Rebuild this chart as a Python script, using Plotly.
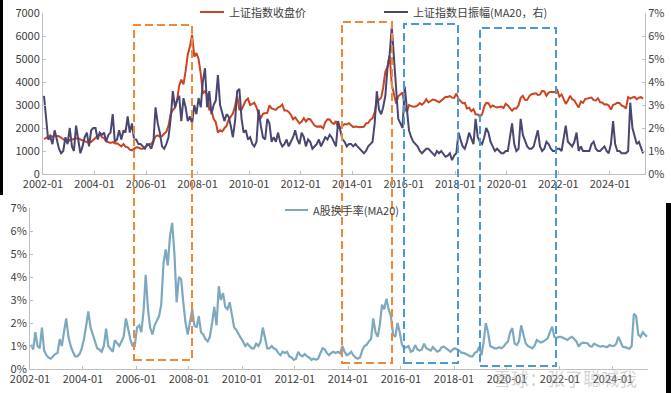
import pandas as pd
import plotly.graph_objects as go

W, H = 671, 393

# ---------------- data (monthly, 2002-01 .. 2025-04) ----------------
months = pd.date_range("2002-01-01", periods=280, freq="MS") + pd.Timedelta(days=14)

sh_close = [
    # 2002
    1520, 1560, 1620, 1680, 1600, 1700, 1650, 1640, 1580, 1510, 1450, 1380,
    # 2003
    1480, 1500, 1510, 1520, 1560, 1500, 1470, 1430, 1380, 1350, 1400, 1490,
    # 2004
    1590, 1680, 1740, 1600, 1560, 1420, 1390, 1350, 1390, 1330, 1340, 1280,
    # 2005
    1200, 1300, 1190, 1160, 1060, 1030, 1080, 1160, 1150, 1100, 1100, 1160,
    # 2006
    1260, 1300, 1300, 1440, 1640, 1680, 1620, 1650, 1750, 1840, 2100, 2600,
    # 2007
    2780, 2880, 3180, 3840, 4100, 3900, 4470, 5200, 5550, 6050, 5100, 5260,
    # 2008
    5000, 4350, 3500, 3600, 3450, 2800, 2780, 2400, 2250, 1800, 1900, 1850,
    # 2009
    1990, 2100, 2350, 2480, 2630, 2950, 3400, 2800, 2800, 3000, 3200, 3280,
    # 2010
    3000, 3050, 3100, 2900, 2600, 2420, 2620, 2640, 2660, 2980, 2850, 2820,
    # 2011
    2790, 2900, 2930, 3020, 2760, 2760, 2700, 2580, 2380, 2460, 2350, 2200,
    # 2012
    2280, 2430, 2280, 2400, 2380, 2230, 2110, 2060, 2080, 2070, 1990, 2250,
    # 2013
    2380, 2370, 2240, 2180, 2300, 2000, 2000, 2100, 2170, 2150, 2210, 2120,
    # 2014
    2040, 2060, 2040, 2030, 2040, 2050, 2200, 2220, 2360, 2420, 2680, 3200,
    # 2015
    3220, 3320, 3750, 4450, 4650, 5150, 3900, 3500, 3060, 3380, 3450, 3540,
    # 2016
    2850, 2700, 3000, 2940, 2920, 2930, 2980, 3080, 3010, 3100, 3250, 3110,
    # 2017
    3160, 3240, 3220, 3150, 3120, 3190, 3270, 3360, 3350, 3390, 3320, 3310,
    # 2018
    3500, 3260, 3170, 3080, 3090, 2850, 2880, 2730, 2820, 2600, 2590, 2500,
    # 2019
    2590, 2940, 3090, 3080, 2900, 2980, 2930, 2890, 2910, 2930, 2870, 3050,
    # 2020
    2980, 2880, 2750, 2860, 2850, 2990, 3310, 3400, 3220, 3230, 3390, 3470,
    # 2021
    3480, 3510, 3440, 3450, 3610, 3590, 3400, 3540, 3570, 3550, 3560, 3640,
    # 2022
    3360, 3460, 3250, 3050, 3190, 3400, 3250, 3200, 3030, 2900, 3150, 3090,
    # 2023
    3260, 3280, 3270, 3320, 3210, 3200, 3290, 3120, 3110, 3020, 3030, 2980,
    # 2024
    2800, 3010, 3040, 3100, 3090, 2970, 2940, 2850, 3340, 3280, 3330, 3350,
    # 2025
    3250, 3320, 3340, 3280,
]

amplitude_ma20 = [
    3.4, 2.4, 1.5, 1.6, 1.3, 1.9, 1.5, 1.1, 0.9, 1.0, 1.6, 1.3,
    2.0, 1.2, 1.0, 2.1, 1.5, 0.9, 1.2, 1.6, 1.8, 1.2, 1.9, 2.0,
    2.0, 1.5, 1.8, 1.7, 1.8, 1.4, 1.7, 1.8, 2.6, 1.4, 1.5, 1.9,
    1.5, 1.9, 1.8, 2.5, 1.8, 2.2, 1.5, 1.5, 1.3, 1.3, 1.2, 1.1,
    1.3, 1.25, 1.1, 1.4, 2.9, 2.2, 1.8, 1.2, 1.1, 1.3, 1.6, 2.4,
    3.6, 2.9, 3.2, 3.4, 2.3, 3.3, 2.9, 2.3, 2.5, 2.2, 3.0, 2.6,
    3.3, 2.9, 4.0, 4.6, 2.9, 3.6, 2.6, 3.0, 3.2, 4.3, 3.0, 2.6,
    2.3, 2.6, 2.5, 2.1, 1.6, 2.3, 3.6, 3.7, 2.4, 1.8, 1.9, 1.5,
    1.6, 1.3, 1.2, 1.4, 2.8, 2.1, 1.6, 1.5, 2.4, 2.2, 1.4, 1.6,
    1.4, 1.8, 1.4, 1.2, 1.3, 1.5, 1.2, 1.4, 1.6, 1.9, 1.5, 1.3,
    1.8, 1.6, 1.2, 1.5, 1.4, 1.1, 1.2, 1.3, 1.5, 1.2, 1.4, 1.6,
    1.5, 1.7, 1.6, 1.4, 1.2, 2.3, 1.9, 1.5, 1.4, 1.2, 1.3, 1.3,
    1.2, 1.3, 1.2, 1.1, 1.0, 0.9, 1.0, 1.2, 1.3, 1.4, 2.2, 3.6,
    2.8, 2.6, 2.9, 3.4, 4.6, 5.2, 6.4, 4.9, 3.6, 2.4, 2.2, 2.0,
    3.8, 2.7, 1.9, 1.6, 1.4, 1.3, 1.2, 1.0, 0.9, 1.0, 1.1, 1.1,
    1.0, 0.9, 0.8, 1.0, 0.9, 1.0, 0.9, 0.75, 0.8, 0.9, 0.6, 0.8,
    0.9, 1.8, 1.5, 1.2, 1.1, 1.4, 1.8, 1.5, 1.3, 2.4, 1.6, 1.4,
    1.3, 1.6, 2.0, 1.8, 1.4, 1.2, 1.0, 1.1, 1.0, 0.9, 0.9, 1.0,
    1.0, 1.6, 2.2, 1.3, 1.0, 1.1, 2.4, 1.7, 1.4, 1.2, 1.1, 1.1,
    1.2, 1.6, 1.9, 1.2, 1.0, 1.1, 1.4, 1.3, 1.1, 1.0, 1.0, 1.1,
    1.1, 1.0, 1.6, 2.1, 1.4, 1.3, 1.2, 1.4, 1.8, 1.0, 1.2, 1.0,
    1.0, 1.0, 1.0, 1.3, 1.4, 1.1, 1.0, 1.0, 1.1, 1.2, 1.0, 0.9,
    1.3, 2.3, 1.3, 1.0, 1.0, 0.9, 0.9, 0.9, 1.0, 3.1, 2.0, 1.6,
    1.3, 1.4, 1.2, 0.9,
]

turnover_ma20 = [
    1.05, 0.85, 1.6, 1.0, 0.9, 1.8, 0.8, 0.6, 0.5, 0.45, 0.55, 0.65,
    0.7, 1.3, 1.0, 1.6, 2.2, 1.4, 1.0, 0.75, 0.55, 0.55, 0.65, 0.9,
    1.3, 1.9, 2.5, 1.8, 1.5, 1.1, 0.9, 0.85, 0.75, 1.0, 1.75, 1.0,
    0.85, 0.75, 1.25, 1.1, 1.0, 1.2, 1.4, 2.2, 1.7, 1.3, 1.0, 1.0,
    1.8, 1.9, 1.6, 2.5, 4.1, 2.6, 1.8, 1.5, 1.9, 2.1, 2.3, 2.8,
    4.6, 5.2, 4.5, 5.8, 6.35, 5.0, 2.9, 4.0, 3.9, 2.9, 2.0, 1.5,
    2.1, 2.6, 1.9, 1.8, 2.3, 1.6, 1.5, 1.3, 1.2, 1.4, 2.0, 2.7,
    1.9, 3.6, 3.0, 3.3, 2.7, 2.6, 2.9, 2.3, 1.8, 1.7, 1.5, 1.35,
    1.2, 1.0, 1.1, 1.0, 0.9, 0.9, 1.1, 1.0, 1.2, 1.8, 1.3, 0.9,
    0.9, 1.0, 0.9, 0.85, 0.7, 0.6, 0.75, 0.7, 0.75, 0.55, 0.5, 0.4,
    0.45, 0.75, 0.6, 0.55, 0.65, 0.55, 0.5, 0.4, 0.45, 0.4, 0.45, 0.7,
    0.9, 0.85, 0.7, 0.6, 0.7, 0.75, 0.7, 0.75, 0.68, 1.0, 0.75, 0.6,
    0.65, 0.75, 0.6, 0.5, 0.45, 0.5, 0.8, 1.0, 1.05, 1.2, 1.3, 2.2,
    1.6, 1.4, 1.9, 2.8, 2.6, 3.05, 2.6, 2.3, 1.5, 1.4, 2.0, 1.6,
    1.05, 0.9, 0.95, 1.0, 0.75, 0.8, 1.04, 0.85, 0.8, 0.85, 1.1, 0.9,
    0.85, 0.8, 0.95, 0.85, 0.75, 0.8, 0.95, 0.97, 0.9, 0.8, 0.75, 0.85,
    0.9, 0.85, 0.8, 0.7, 0.7, 0.65, 0.6, 0.55, 0.55, 0.7, 0.75, 0.97,
    0.6, 1.2, 2.0, 1.6, 1.0, 0.95, 0.9, 0.9, 0.95, 0.9, 0.97, 1.1,
    1.2, 1.6, 1.78, 1.1, 1.04, 1.2, 1.9, 1.5, 1.12, 1.0, 0.95, 0.9,
    1.0, 1.26, 1.2, 1.15, 1.19, 1.25, 1.33, 1.6, 1.84, 1.4, 1.35, 1.4,
    1.4, 1.35, 1.3, 1.26, 1.35, 1.4, 1.3, 1.2, 0.97, 1.1, 1.15, 1.12,
    1.12, 1.0, 0.97, 1.1, 1.04, 1.0, 0.97, 1.0, 0.97, 0.95, 1.04, 1.0,
    1.0, 1.1, 1.4, 1.2, 0.97, 0.95, 0.9, 0.88, 1.0, 2.4, 2.3, 1.5,
    1.4, 1.6, 1.5, 1.4,
]

x_tick_vals = [f"{y}-01-01" for y in range(2002, 2025, 2)]
x_tick_text = [f"{y}-01" for y in range(2002, 2025, 2)]
left_ticks = list(range(0, 7001, 1000))
pct_ticks = list(range(0, 8))
pct_tick_text = [f"{v}%" for v in pct_ticks]

name_close = "上证指数收盘价"
name_amp = "上证指数日振幅(MA20，右)"
name_turn = "A股换手率(MA20)"

c_red = "#CC4420"
c_purple = "#4A4672"
c_teal = "#7DA9C0"
c_orange = "#F0883A"
c_blue = "#4A9ADB"
c_axis = "#BFBFBF"
c_text = "#404040"


def px(x):
    return x / W


def py(y):
    return 1 - y / H


fig = go.Figure()
fig.add_trace(go.Scatter(x=months, y=sh_close, name=name_close, mode="lines",
                         line=dict(color=c_red, width=2), xaxis="x", yaxis="y",
                         showlegend=False))
fig.add_trace(go.Scatter(x=months, y=amplitude_ma20, name=name_amp, mode="lines",
                         line=dict(color=c_purple, width=2), xaxis="x", yaxis="y2",
                         showlegend=False))
fig.add_trace(go.Scatter(x=months, y=turnover_ma20, name=name_turn, mode="lines",
                         line=dict(color=c_teal, width=2.2), xaxis="x2", yaxis="y3",
                         showlegend=False))

font = dict(family="Noto Sans CJK SC, Noto Sans, sans-serif", size=11, color=c_text)
axis_common = dict(showgrid=False, zeroline=False, showline=True, linecolor=c_axis,
                   linewidth=1, ticks="inside", ticklen=3, tickcolor=c_axis,
                   automargin=False, tickfont=dict(size=11, color=c_text))

fig.update_layout(
    template="none",
    width=W, height=H, autosize=False, margin=dict(l=0, r=0, t=0, b=0, pad=0),
    paper_bgcolor="white", plot_bgcolor="white", font=font, showlegend=False,
    xaxis=dict(domain=[px(43), px(645)], anchor="y", type="date",
               range=["2002-01-01", "2025-05-12"], tickvals=x_tick_vals,
               ticktext=x_tick_text, **axis_common),
    yaxis=dict(domain=[py(174), py(13)], anchor="x", range=[0, 7000],
               tickvals=left_ticks, **axis_common),
    yaxis2=dict(overlaying="y", side="right", anchor="x", range=[0, 7],
                tickvals=pct_ticks, ticktext=pct_tick_text, **axis_common),
    xaxis2=dict(domain=[px(30), px(648)], anchor="y3", type="date",
                range=["2002-01-01", "2025-04-28"], tickvals=x_tick_vals,
                ticktext=x_tick_text, **axis_common),
    yaxis3=dict(domain=[py(369), py(208)], anchor="x2", range=[0, 7],
                tickvals=pct_ticks, ticktext=pct_tick_text, **axis_common),
)

shapes = []
# dashed highlight boxes spanning both panels
boxes = [
    (134, 192, 25, 360, c_orange),
    (342, 392, 22, 363, c_orange),
    (404, 458, 24, 363, c_blue),
    (480, 556, 28, 366, c_blue),
]
for x0, x1, y0, y1, col in boxes:
    shapes.append(dict(type="rect", xref="paper", yref="paper",
                       x0=px(x0), x1=px(x1), y0=py(y1), y1=py(y0),
                       line=dict(color=col, width=2, dash="8px,4px"),
                       fillcolor="rgba(0,0,0,0)", layer="above"))

# legend samples (manual)
legend_items = [
    (200, 224, 12, c_red, name_close),
    (384, 408, 12, c_purple, name_amp),
    (285, 308, 210, c_teal, name_turn),
]
annotations = []
for x0, x1, yy, col, txt in legend_items:
    shapes.append(dict(type="line", xref="paper", yref="paper",
                       x0=px(x0), x1=px(x1), y0=py(yy), y1=py(yy),
                       line=dict(color=col, width=2)))
    annotations.append(dict(xref="paper", yref="paper", x=px(x1 + 3), y=py(yy),
                            text=txt, showarrow=False, xanchor="left",
                            yanchor="middle", font=dict(size=11, color=c_text)))

# black scan borders in the reference
shapes.append(dict(type="rect", xref="paper", yref="paper", x0=0, x1=px(3),
                   y0=py(195), y1=1, fillcolor="black", line=dict(width=0)))
shapes.append(dict(type="rect", xref="paper", yref="paper", x0=px(666), x1=1,
                   y0=0, y1=py(203), fillcolor="black", line=dict(width=0)))

# watermark
annotations.append(dict(xref="paper", yref="paper", x=px(565), y=py(378),
                        text="雪球：张了聪喊我", showarrow=False, xanchor="center",
                        yanchor="middle",
                        font=dict(size=18, color="rgba(170,170,170,0.5)")))

fig.update_layout(shapes=shapes, annotations=annotations)
fig.write_html(
    "out.html",
    config={"displayModeBar": False},
    post_script="document.body.style.margin='0';document.body.style.padding='0';"
                "document.body.style.overflow='hidden';",
)
